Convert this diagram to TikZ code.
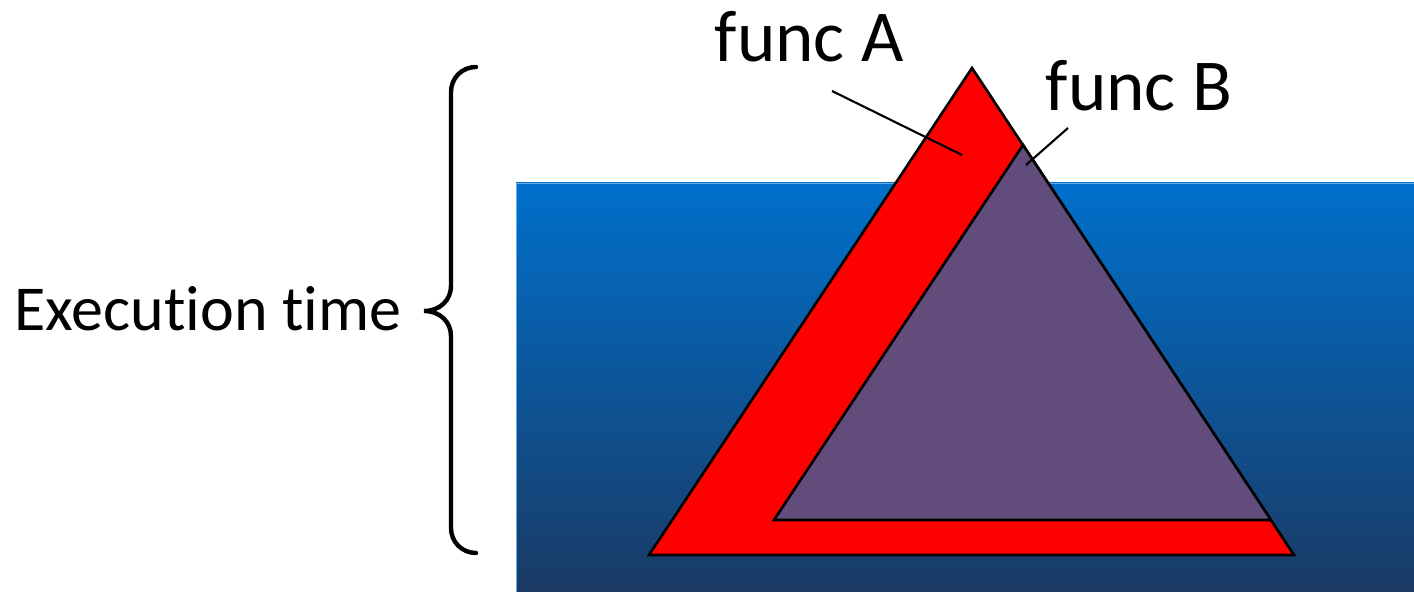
\documentclass[tikz,border=0pt]{standalone}
\usepackage{fontspec}
\setmainfont[Ligatures=NoCommon]{Carlito}
\definecolor{redA}{HTML}{FF0000}
\definecolor{purpB}{HTML}{614C7C}
\definecolor{blueTop}{HTML}{0070CC}
\definecolor{blueBot}{HTML}{1A3A64}
\begin{document}
\begin{tikzpicture}[x=0.01cm,y=-0.01cm,
  outline/.style={draw=black,line width=0.75pt,line join=miter},
  lbl/.style={anchor=base west,inner sep=0pt,font=\fontsize{20.8pt}{24pt}\selectfont},
  leader/.style={draw=black,line width=0.6pt}]
\useasboundingbox (0,0) rectangle (1414,592);
% blue background block
\shade[top color=blueTop,bottom color=blueBot] (516,183) rectangle (1414,592);
\draw[draw=blueTop!60!white,line width=0.4pt] (516.5,592) -- (516.5,183.5) -- (1414,183.5);
% red triangle (func A)
\coordinate (ra) at (972,68);
\coordinate (rl) at (649,555);
\coordinate (rr) at (1294,555);
\filldraw[outline,fill=redA] (ra) -- (rl) -- (rr) -- cycle;
% purple triangle (func B)
\coordinate (pa) at (1023,145);
\coordinate (pl) at (774,520);
\coordinate (pr) at (1271,520);
\filldraw[outline,fill=purpB] (pa) -- (pl) -- (pr) -- cycle;
% labels
\node[lbl] (fa) at (714,62) {func A};
\node[lbl] (fb) at (1045,111) {func B};
\node[anchor=base west,inner sep=0pt,font=\fontsize{18.2pt}{22pt}\selectfont] (et) at (14,331) {Execution time};
% leader lines
\coordinate (la1) at (832,91);
\coordinate (la2) at (962,155);
\coordinate (lb1) at (1068,128);
\coordinate (lb2) at (1026,165);
\draw[leader] (la1) -- (la2);
\draw[leader] (lb1) -- (lb2);
% brace
\coordinate (bt) at (476,67);
\coordinate (bb) at (476,553);
\coordinate (btip) at (424,311);
\draw[line width=1.25pt,line cap=round] (bt) .. controls (462,67) and (451,78) .. (451,92)
  -- (451,286) .. controls (451,300) and (440,311) .. (btip)
  .. controls (440,311) and (451,322) .. (451,336)
  -- (451,528) .. controls (451,542) and (462,553) .. (bb);
\end{tikzpicture}
\end{document}
